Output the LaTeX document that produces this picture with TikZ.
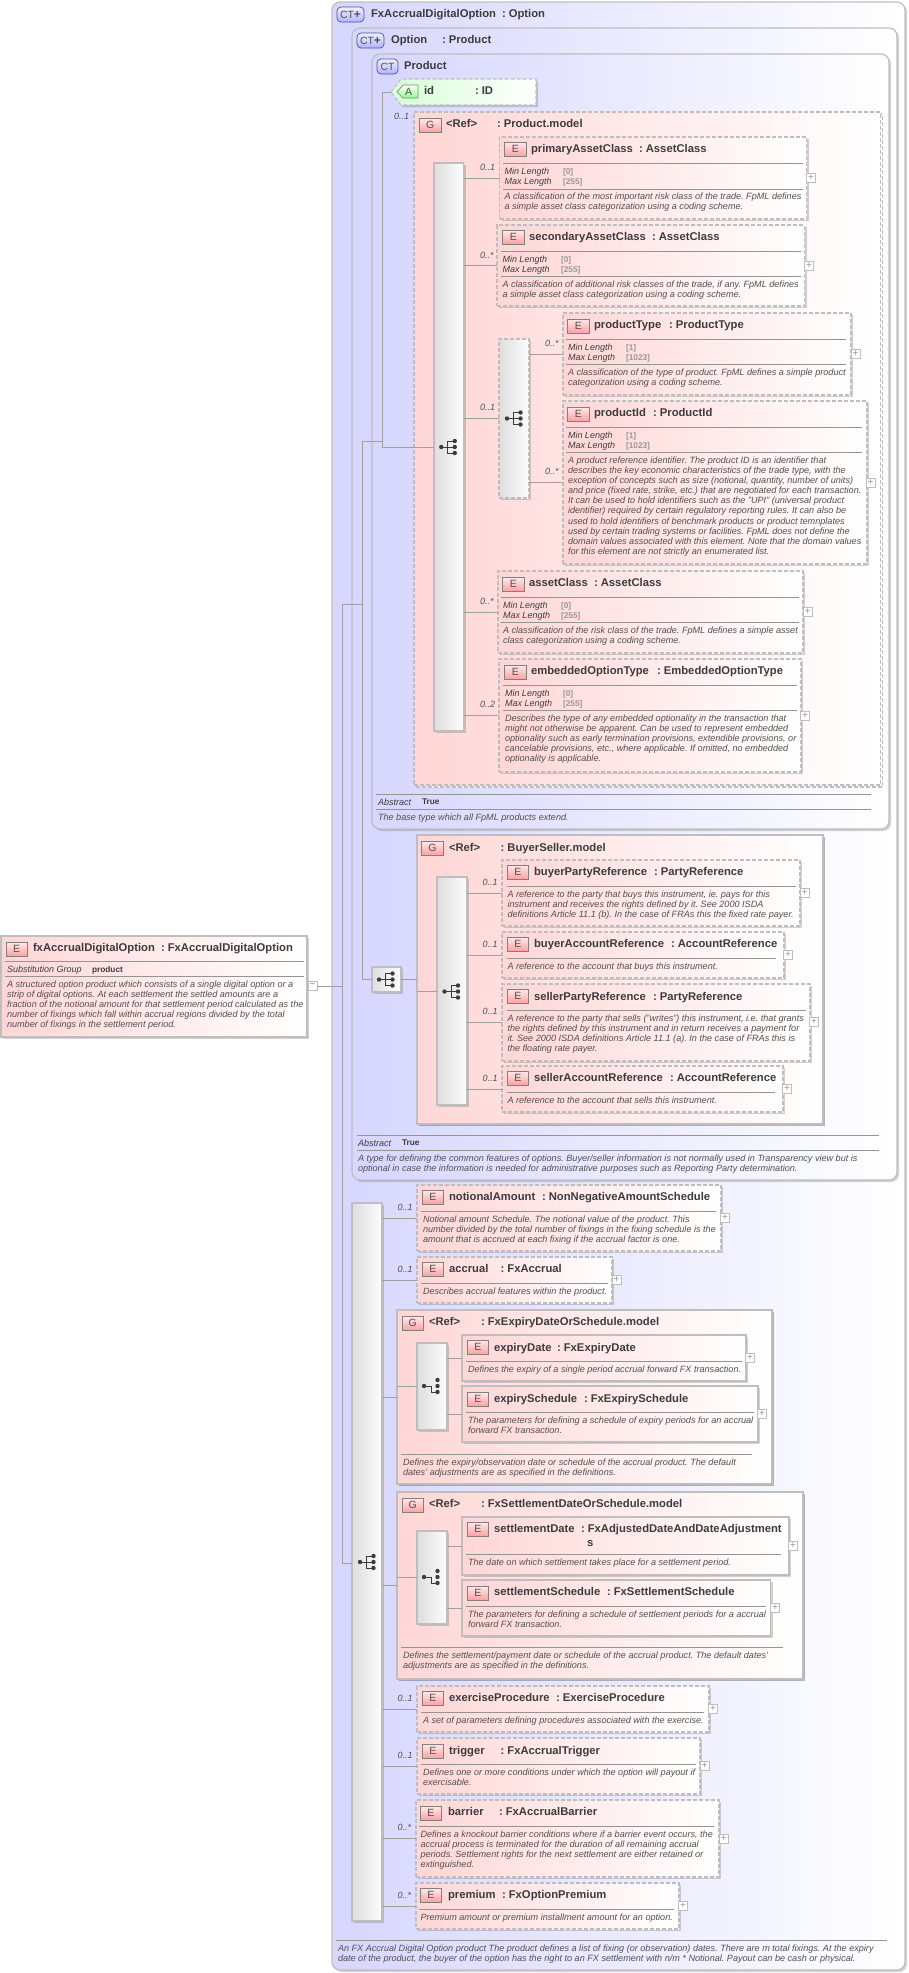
\documentclass[tikz,border=0pt]{standalone}
\usepackage{fontspec}
\setmainfont{Liberation Sans}
\usepackage{tikz}
\usetikzlibrary{shadows}
\frenchspacing
\definecolor{lavleft}{HTML}{D6D6FF}
\definecolor{pinkleft}{HTML}{FFD6D6}
\definecolor{greenleft}{HTML}{D6FFD6}
\definecolor{frame}{HTML}{BEBEBE}
\definecolor{wirecol}{HTML}{A0A0A0}
\definecolor{ink}{HTML}{3C3C3C}
\definecolor{softink}{HTML}{505050}
\definecolor{valink}{HTML}{989898}
\tikzset{
	seqicon/.pic={
		\fill[ink] (-7.5,0) circle (2.2pt);
		\fill[ink] (6,-6) circle (2.2pt);
		\fill[ink] (6,0) circle (2.2pt);
		\fill[ink] (6,6) circle (2.2pt);
		\draw[ink,line width=0.8pt] (-7.5,0) -- (6,0);
		\draw[ink,line width=0.8pt] (6,-6) -- (-1,-6) -- (-1,6) -- (6,6);
	},
	choiceicon/.pic={
		\fill[ink] (-7.5,0) circle (2.2pt);
		\fill[ink] (6,-6) circle (2.2pt);
		\fill[ink] (6,0) circle (2.2pt);
		\fill[ink] (6,6) circle (2.2pt);
		\draw[ink,line width=0.8pt] (-7.5,0) -- (0,0) -- (0,6) -- (6,6);
	}
}
\begin{document}
\begin{tikzpicture}[x=1pt,y=-1pt,inner sep=0pt,outer sep=0pt]
	\tikzstyle{softshadow}=[drop shadow={shadow xshift=2pt,shadow yshift=-2pt,opacity=0.25,fill=black!70}]
	\tikzstyle{ctbox}=[draw=frame,line width=1.2pt,rounded corners=8pt,left color=lavleft,right color=white,softshadow]
	\tikzstyle{grprepeat}=[draw=frame,dash pattern=on 4pt off 2pt,line width=1.1pt,fill=white]
	\tikzstyle{grpdashed}=[draw=frame,dash pattern=on 4pt off 2pt,line width=1.1pt,left color=pinkleft,right color=white]
	\tikzstyle{grpsolid}=[draw=frame,line width=1.2pt,left color=pinkleft,right color=white,drop shadow={shadow xshift=2pt,shadow yshift=-2pt,opacity=0.4,fill=black!70}]
	\tikzstyle{elemdashed}=[draw=frame,dash pattern=on 4pt off 2pt,line width=1.1pt,left color=pinkleft,right color=white,softshadow]
	\tikzstyle{elemsolid}=[draw=frame,line width=1.2pt,left color=pinkleft,right color=white,softshadow]
	\tikzstyle{seqbar}=[draw=frame,line width=1.1pt,left color=black!13,right color=black!1,softshadow]
	\tikzstyle{seqbardashed}=[seqbar,dash pattern=on 4pt off 2pt]
	\tikzstyle{tagbase}=[anchor=north west,draw=black!50,line width=0.7pt,text=softink,font=\fontsize{10.5}{11}\selectfont]
	\tikzstyle{tagE}=[tagbase,minimum width=21.5,minimum height=14.5,top color=pinkleft!50,bottom color=red!38]
	\tikzstyle{tagCT}=[tagbase,draw=black!45!blue!70,rounded corners=4pt,minimum height=15,top color=blue!6,bottom color=blue!30]
	\tikzstyle{plusbox}=[draw=frame,line width=0.8pt,fill=white,minimum width=9,minimum height=9,text=valink,font=\fontsize{10}{10}\selectfont]
	\tikzstyle{namelabel}=[anchor=base west,yshift=-4pt,text=ink,font=\fontsize{11.25}{12}\selectfont\bfseries]
	\tikzstyle{factlabel}=[anchor=base west,yshift=-3.2pt,text=ink,font=\fontsize{9}{10}\selectfont\itshape]
	\tikzstyle{factvalue}=[anchor=base west,yshift=-3.2pt,text=valink,font=\fontsize{8.3}{10}\selectfont\bfseries]
	\tikzstyle{boldvalue}=[factvalue,text=ink]
	\tikzstyle{cardlabel}=[factlabel,text=softink]
	\tikzstyle{desclabel}=[anchor=north west,yshift=3.4pt,align=left,text=softink,font=\fontsize{9.1}{10.15}\selectfont\itshape]
	\tikzstyle{sepline}=[draw=black!42,line width=0.8pt]
	\tikzstyle{wire}=[draw=wirecol,line width=0.8pt]

	\node[ctbox,minimum width=573,minimum height=1968](outerct) at (618.5,986) {};
	\node[tagCT,minimum width=27](outertag) at (337,7) {CT{\bfseries\fontsize{12}{12}\selectfont+}};
	\node[namelabel](outername) at (371,13) {FxAccrualDigitalOption};
	\node[namelabel](outertype) at (502,13) {: Option};

	\node[ctbox,minimum width=545,minimum height=1152](optionct) at (624.5,604) {};
	\node[tagCT,minimum width=27](optiontag) at (357,33) {CT{\bfseries\fontsize{12}{12}\selectfont+}};
	\node[namelabel](optionname) at (391,39) {Option};
	\node[namelabel](optiontype) at (442,39) {: Product};

	\node[ctbox,minimum width=517,minimum height=775](productct) at (630.5,441.5) {};
	\node[tagCT,minimum width=21](producttag) at (377,59) {CT};
	\node[namelabel](productname) at (404,65) {Product};

	\path[draw=frame,dash pattern=on 4pt off 2pt,line width=1.1pt,left color=greenleft,right color=white,softshadow] (391,92) -- (401,79) -- (536,79) -- (536,105) -- (401,105) -- cycle;
	\coordinate (idtip) at (391,92);
	\path[draw=black!50,line width=0.7pt,top color=white,bottom color=green!45] (397,92) -- (403,85) -- (418,85) -- (418,98) -- (403,98) -- cycle;
	\node[text=softink,font=\fontsize{10.5}{11}\selectfont](idtag) at (408.5,92) {A};
	\node[namelabel](idname) at (424,90) {id};
	\node[namelabel](idtype) at (475,90) {: ID};

	\node[grprepeat,minimum width=466.5,minimum height=673](modelback) at (649.25,450.5) {};
	\node[grpdashed,minimum width=466.5,minimum height=673](modelgrp) at (647.25,448.5) {};
	\node[cardlabel](modelcard) at (394,116) {0..1};
	\node[tagE](modeltag) at (419.5,118) {G};
	\node[namelabel](modelname) at (446,123) {<Ref>};
	\node[namelabel](modeltype) at (497,123) {: Product.model};
	\node[seqbar,minimum width=29.5,minimum height=568](modelseq) at (448.75,447) {};
	\pic (modelicon) at (448.75,447) {seqicon};

	\node[elemdashed,minimum width=307,minimum height=82](primary) at (653,178) {};
	\node[tagE](primarytag) at (504.5,142) {E};
	\node[namelabel](primaryname) at (531,148) {primaryAssetClass};
	\node[namelabel](primarytype) at (639,148) {: AssetClass};
	\draw[sepline] (503,163) -- (803,163);
	\node[factlabel](primarymin) at (504.5,171) {Min Length};
	\node[factvalue](primaryminv) at (563,171) {[0]};
	\node[factlabel](primarymax) at (504.5,181) {Max Length};
	\node[factvalue](primarymaxv) at (563,181) {[255]};
	\draw[sepline] (503,189) -- (803,189);
	\node[desclabel](primarydesc) at (504.5,196) {A classification of the most important risk class of the trade. FpML defines\\a simple asset class categorization using a coding scheme.};
	\node[plusbox](primaryplus) at (811,178) {+};
	\node[cardlabel](primarycard) at (480,167) {0..1};

	\node[elemdashed,minimum width=307.6,minimum height=81](secondary) at (650.8,265.5) {};
	\node[tagE](secondarytag) at (502.5,230) {E};
	\node[namelabel](secondaryname) at (529,236) {secondaryAssetClass};
	\node[namelabel](secondarytype) at (652,236) {: AssetClass};
	\draw[sepline] (501,251) -- (801,251);
	\node[factlabel](secondarymin) at (502.5,259) {Min Length};
	\node[factvalue](secondaryminv) at (561,259) {[0]};
	\node[factlabel](secondarymax) at (502.5,269) {Max Length};
	\node[factvalue](secondarymaxv) at (561,269) {[255]};
	\draw[sepline] (501,276) -- (801,276);
	\node[desclabel](secondarydesc) at (502.5,284) {A classification of additional risk classes of the trade, if any. FpML defines\\a simple asset class categorization using a coding scheme.};
	\node[plusbox](secondaryplus) at (809,266) {+};
	\node[cardlabel](secondarycard) at (480,255) {0..*};

	\node[seqbardashed,minimum width=30,minimum height=159](choicebar) at (514,418.5) {};
	\pic (choiceicon) at (514.5,418.5) {seqicon};
	\node[cardlabel](choicecard) at (480,407) {0..1};

	\node[elemdashed,minimum width=288,minimum height=82](ptype) at (707,354) {};
	\node[tagE](ptypetag) at (567.5,319) {E};
	\node[namelabel](ptypename) at (594,324) {productType};
	\node[namelabel](ptypetype) at (669,324) {: ProductType};
	\draw[sepline] (566,339) -- (846,339);
	\node[factlabel](ptypemin) at (568,347) {Min Length};
	\node[factvalue](ptypeminv) at (626,347) {[1]};
	\node[factlabel](ptypemax) at (568,357) {Max Length};
	\node[factvalue](ptypemaxv) at (626,357) {[1023]};
	\draw[sepline] (566,364) -- (846,364);
	\node[desclabel](ptypedesc) at (568,372) {A classification of the type of product. FpML defines a simple product\\categorization using a coding scheme.};
	\node[plusbox](ptypeplus) at (855.5,354) {+};
	\node[cardlabel](ptypecard) at (545,343) {0..*};

	\node[elemdashed,minimum width=304,minimum height=163](pid) at (715,482.5) {};
	\node[tagE](pidtag) at (567.5,407) {E};
	\node[namelabel](pidname) at (594,412) {productId};
	\node[namelabel](pidtype) at (653,412) {: ProductId};
	\draw[sepline] (566,427) -- (862,427);
	\node[factlabel](pidmin) at (568,435) {Min Length};
	\node[factvalue](pidminv) at (626,435) {[1]};
	\node[factlabel](pidmax) at (568,445) {Max Length};
	\node[factvalue](pidmaxv) at (626,445) {[1023]};
	\draw[sepline] (566,452) -- (862,452);
	\node[desclabel](piddesc) at (568,460) {A product reference identifier. The product ID is an identifier that\\describes the key economic characteristics of the trade type, with the\\exception of concepts such as size (notional, quantity, number of units)\\and price (fixed rate, strike, etc.) that are negotiated for each transaction.\\It can be used to hold identifiers such as the "UPI" (universal product\\identifier) required by certain regulatory reporting rules. It can also be\\used to hold identifiers of benchmark products or product temnplates\\used by certain trading systems or facilities. FpML does not define the\\domain values associated with this element. Note that the domain values\\for this element are not strictly an enumerated list.};
	\node[plusbox](pidplus) at (870.5,483) {+};
	\node[cardlabel](pidcard) at (545,471) {0..*};

	\node[elemdashed,minimum width=305,minimum height=82](asset) at (650.5,612) {};
	\node[tagE](assettag) at (502.5,577) {E};
	\node[namelabel](assetname) at (529,582) {assetClass};
	\node[namelabel](assettype) at (594,582) {: AssetClass};
	\draw[sepline] (501,597) -- (799,597);
	\node[factlabel](assetmin) at (503,605) {Min Length};
	\node[factvalue](assetminv) at (561,605) {[0]};
	\node[factlabel](assetmax) at (503,615) {Max Length};
	\node[factvalue](assetmaxv) at (561,615) {[255]};
	\draw[sepline] (501,622) -- (799,622);
	\node[desclabel](assetdesc) at (503,630) {A classification of the risk class of the trade. FpML defines a simple asset\\class categorization using a coding scheme.};
	\node[plusbox](assetplus) at (807.5,612) {+};
	\node[cardlabel](assetcard) at (480,601) {0..*};

	\node[elemdashed,minimum width=302,minimum height=113](embedded) at (650,715.5) {};
	\node[tagE](embeddedtag) at (504.5,665) {E};
	\node[namelabel](embeddedname) at (531,670) {embeddedOptionType};
	\node[namelabel](embeddedtype) at (657,670) {: EmbeddedOptionType};
	\draw[sepline] (503,685) -- (797,685);
	\node[factlabel](embeddedmin) at (505,693) {Min Length};
	\node[factvalue](embeddedminv) at (563,693) {[0]};
	\node[factlabel](embeddedmax) at (505,703) {Max Length};
	\node[factvalue](embeddedmaxv) at (563,703) {[255]};
	\draw[sepline] (503,710) -- (797,710);
	\node[desclabel](embeddeddesc) at (505,718) {Describes the type of any embedded optionality in the transaction that\\might not otherwise be apparent. Can be used to represent embedded\\optionality such as early termination provisions, extendible provisions, or\\cancelable provisions, etc., where applicable. If omitted, no embedded\\optionality is applicable.};
	\node[plusbox](embeddedplus) at (805,716) {+};
	\node[cardlabel](embeddedcard) at (480,704) {0..2};

	\draw[sepline] (376,794) -- (871,794);
	\node[factlabel](productabs) at (378,802) {Abstract};
	\node[boldvalue](productabsv) at (422,801) {True};
	\draw[sepline] (376,809) -- (871,809);
	\node[desclabel](productdesc) at (378,817) {The base type which all FpML products extend.};

	\node[seqbar,minimum width=29,minimum height=25](optseq) at (386.5,979.5) {};
	\pic (optseqicon) at (386.5,979.5) {seqicon};

	\node[grpsolid,minimum width=406,minimum height=289](buyergrp) at (620,979.5) {};
	\node[tagE](buyergrptag) at (421.6,841) {G};
	\node[namelabel](buyergrpname) at (449,847) {<Ref>};
	\node[namelabel](buyergrptype) at (500.6,847) {: BuyerSeller.model};
	\node[seqbar,minimum width=30,minimum height=228](buyerseq) at (452,991) {};
	\pic (buyericon) at (452,991.5) {seqicon};

	\node[elemdashed,minimum width=298,minimum height=66](bparty) at (651,893) {};
	\node[tagE](bpartytag) at (507,865) {E};
	\node[namelabel](bpartyname) at (534,871) {buyerPartyReference};
	\node[namelabel](bpartytype) at (654,871) {: PartyReference};
	\draw[sepline] (506.5,886) -- (796,886);
	\node[desclabel](bpartydesc) at (507.5,894) {A reference to the party that buys this instrument, ie. pays for this\\instrument and receives the rights defined by it. See 2000 ISDA\\definitions Article 11.1 (b). In the case of FRAs this the fixed rate payer.};
	\node[plusbox](bpartyplus) at (804.5,893) {+};
	\node[cardlabel](bpartycard) at (482.5,882) {0..1};

	\node[elemdashed,minimum width=282,minimum height=46](bacct) at (643,955) {};
	\node[tagE](bacctag) at (507,937) {E};
	\node[namelabel](bacctname) at (534,943) {buyerAccountReference};
	\node[namelabel](bacctype) at (671,943) {: AccountReference};
	\draw[sepline] (506.5,958) -- (776,958);
	\node[desclabel](bacctdesc) at (507.5,966) {A reference to the account that buys this instrument.};
	\node[plusbox](bacctplus) at (788,955) {+};
	\node[cardlabel](bacctcard) at (482.5,944) {0..1};

	\node[elemdashed,minimum width=308,minimum height=77](sparty) at (656,1022.5) {};
	\node[tagE](spartytag) at (507,989) {E};
	\node[namelabel](spartyname) at (534,996) {sellerPartyReference};
	\node[namelabel](spartytype) at (653,996) {: PartyReference};
	\draw[sepline] (506.5,1010) -- (806,1010);
	\node[desclabel](spartydesc) at (507.5,1018) {A reference to the party that sells ("writes") this instrument, i.e. that grants\\the rights defined by this instrument and in return receives a payment for\\it. See 2000 ISDA definitions Article 11.1 (a). In the case of FRAs this is\\the floating rate payer.};
	\node[plusbox](spartyplus) at (814,1022) {+};
	\node[cardlabel](spartycard) at (482.5,1011) {0..1};

	\node[elemdashed,minimum width=281,minimum height=46](sacct) at (642.5,1089) {};
	\node[tagE](sacctag) at (507,1071) {E};
	\node[namelabel](sacctname) at (534,1077) {sellerAccountReference};
	\node[namelabel](sacctype) at (670,1077) {: AccountReference};
	\draw[sepline] (506.5,1092) -- (775,1092);
	\node[desclabel](sacctdesc) at (507.5,1100) {A reference to the account that sells this instrument.};
	\node[plusbox](sacctplus) at (787,1089) {+};
	\node[cardlabel](sacctcard) at (482.5,1078) {0..1};

	\draw[sepline] (357,1135) -- (879,1135);
	\node[factlabel](optionabs) at (358,1143) {Abstract};
	\node[boldvalue](optionabsv) at (402,1142) {True};
	\draw[sepline] (357,1150) -- (879,1150);
	\node[desclabel](optiondesc) at (358,1158) {A type for defining the common features of options. Buyer/seller information is not normally used in Transparency view but is\\optional in case the information is needed for administrative purposes such as Reporting Party determination.};

	\node[seqbar,minimum width=30,minimum height=718](mainseq) at (367,1562) {};
	\pic (mainicon) at (367.5,1562) {seqicon};

	\node[elemdashed,minimum width=304,minimum height=66](notional) at (569,1218) {};
	\node[tagE](notionaltag) at (422,1190) {E};
	\node[namelabel](notionalname) at (449,1196) {notionalAmount};
	\node[namelabel](notionaltype) at (542,1196) {: NonNegativeAmountSchedule};
	\draw[sepline] (421,1211) -- (716,1211);
	\node[desclabel](notionaldesc) at (423,1219) {Notional amount Schedule. The notional value of the product. This\\number divided by the total number of fixings in the fixing schedule is the\\amount that is accrued at each fixing if the accrual factor is one.};
	\node[plusbox](notionalplus) at (725,1218) {+};
	\node[cardlabel](notionalcard) at (397.6,1207) {0..1};

	\node[elemdashed,minimum width=195,minimum height=46](accrual) at (514.5,1280) {};
	\node[tagE](accrualtag) at (422,1262) {E};
	\node[namelabel](accrualname) at (449,1268) {accrual};
	\node[namelabel](accrualtype) at (500.6,1268) {: FxAccrual};
	\draw[sepline] (421,1283) -- (608,1283);
	\node[desclabel](accrualdesc) at (423,1291) {Describes accrual features within the product.};
	\node[plusbox](accrualplus) at (616.5,1280) {+};
	\node[cardlabel](accrualcard) at (397.6,1269) {0..1};

	\node[grpsolid,minimum width=375,minimum height=174](expirygrp) at (584.5,1397) {};
	\node[tagE](expirygrptag) at (402,1316) {G};
	\node[namelabel](expirygrpname) at (429,1321) {<Ref>};
	\node[namelabel](expirygrptype) at (481,1321) {: FxExpiryDateOrSchedule.model};
	\node[seqbar,minimum width=30,minimum height=87](expiryseq) at (432,1386.5) {};
	\pic (expiryicon) at (431.5,1386) {choiceicon};

	\node[elemsolid,minimum width=284,minimum height=46](edate) at (604,1358) {};
	\node[tagE](edatetag) at (467,1340) {E};
	\node[namelabel](edatename) at (494,1347) {expiryDate};
	\node[namelabel](edatetype) at (557,1347) {: FxExpiryDate};
	\draw[sepline] (466,1361) -- (742,1361);
	\node[desclabel](edatedesc) at (468,1369) {Defines the expiry of a single period accrual forward FX transaction.};
	\node[plusbox](edateplus) at (750,1358) {+};

	\node[elemsolid,minimum width=296,minimum height=56](esched) at (610,1414) {};
	\node[tagE](eschedtag) at (467,1392) {E};
	\node[namelabel](eschedname) at (494,1398) {expirySchedule};
	\node[namelabel](eschedtype) at (584,1398) {: FxExpirySchedule};
	\draw[sepline] (466,1412) -- (753.5,1412);
	\node[desclabel](escheddesc) at (468,1420) {The parameters for defining a schedule of expiry periods for an accrual\\forward FX transaction.};
	\node[plusbox](eschedplus) at (762,1414) {+};

	\draw[sepline] (401,1454) -- (752,1454);
	\node[desclabel](expirydesc) at (403,1462) {Defines the expiry/observation date or schedule of the accrual product. The default\\dates' adjustments are as specified in the definitions.};

	\node[grpsolid,minimum width=406,minimum height=187](settlegrp) at (600,1585.5) {};
	\node[tagE](settlegrptag) at (402,1498) {G};
	\node[namelabel](settlegrpname) at (429,1503) {<Ref>};
	\node[namelabel](settlegrptype) at (481,1503) {: FxSettlementDateOrSchedule.model};
	\node[seqbar,minimum width=30,minimum height=93](settleseq) at (432,1577.5) {};
	\pic (settleicon) at (431.5,1577) {choiceicon};

	\node[elemsolid,minimum width=327,minimum height=58](sdate) at (625.5,1546) {};
	\node[tagE](sdatetag) at (467,1522) {E};
	\node[namelabel](sdatename) at (494,1528) {settlementDate};
	\node[namelabel](sdatetype) at (581,1528) {: FxAdjustedDateAndDateAdjustment};
	\node[namelabel](sdatetail) at (587,1542) {s};
	\draw[sepline] (466,1554) -- (781,1554);
	\node[desclabel](sdatedesc) at (468,1562) {The date on which settlement takes place for a settlement period.};
	\node[plusbox](sdateplus) at (793,1546) {+};

	\node[elemsolid,minimum width=308.5,minimum height=56](ssched) at (616.25,1608) {};
	\node[tagE](sschedtag) at (467,1586) {E};
	\node[namelabel](sschedname) at (494,1591) {settlementSchedule};
	\node[namelabel](sschedtype) at (607,1591) {: FxSettlementSchedule};
	\draw[sepline] (466,1606) -- (766,1606);
	\node[desclabel](sscheddesc) at (468,1614) {The parameters for defining a schedule of settlement periods for a accrual\\forward FX transaction.};
	\node[plusbox](sschedplus) at (775,1608) {+};

	\draw[sepline] (401,1647) -- (783,1647);
	\node[desclabel](settledesc) at (403,1655) {Defines the settlement/payment date or schedule of the accrual product. The default dates'\\adjustments are as specified in the definitions.};

	\node[elemdashed,minimum width=292,minimum height=46](exercise) at (563,1709) {};
	\node[tagE](exercisetag) at (422,1691) {E};
	\node[namelabel](exercisename) at (449,1697) {exerciseProcedure};
	\node[namelabel](exercisetype) at (556,1697) {: ExerciseProcedure};
	\draw[sepline] (421,1712) -- (704,1712);
	\node[desclabel](exercisedesc) at (423,1720) {A set of parameters defining procedures associated with the exercise.};
	\node[plusbox](exerciseplus) at (713,1709) {+};
	\node[cardlabel](exercisecard) at (397.6,1698) {0..1};

	\node[elemdashed,minimum width=283,minimum height=56](trigger) at (558.5,1766) {};
	\node[tagE](triggertag) at (422,1744) {E};
	\node[namelabel](triggername) at (449,1750) {trigger};
	\node[namelabel](triggertype) at (500.6,1750) {: FxAccrualTrigger};
	\draw[sepline] (421,1764) -- (695.6,1764);
	\node[desclabel](triggerdesc) at (423,1772) {Defines one or more conditions under which the option will payout if\\exercisable.};
	\node[plusbox](triggerplus) at (704.5,1766) {+};
	\node[cardlabel](triggercard) at (397.6,1755) {0..1};

	\node[elemdashed,minimum width=303,minimum height=77](barrier) at (567.5,1838.5) {};
	\node[tagE](barriertag) at (420,1806) {E};
	\node[namelabel](barriername) at (448,1811) {barrier};
	\node[namelabel](barriertype) at (499,1811) {: FxAccrualBarrier};
	\draw[sepline] (419,1826) -- (714,1826);
	\node[desclabel](barrierdesc) at (420.5,1834) {Defines a knockout barrier conditions where if a barrier event occurs, the\\accrual process is terminated for the duration of all remaining accrual\\periods. Settlement rights for the next settlement are either retained or\\extinguished.};
	\node[plusbox](barrierplus) at (723.5,1839) {+};
	\node[cardlabel](barriercard) at (397.6,1827) {0..*};

	\node[elemdashed,minimum width=263,minimum height=46](premium) at (547.5,1906) {};
	\node[tagE](premiumtag) at (420,1888) {E};
	\node[namelabel](premiumname) at (448,1894) {premium};
	\node[namelabel](premiumtype) at (502,1894) {: FxOptionPremium};
	\draw[sepline] (419,1909) -- (674,1909);
	\node[desclabel](premiumdesc) at (420.5,1917) {Premium amount or premium installment amount for an option.};
	\node[plusbox](premiumplus) at (683,1906) {+};
	\node[cardlabel](premiumcard) at (397.6,1895) {0..*};

	\draw[sepline] (336,1940) -- (886.5,1940);
	\node[desclabel](outerdesc) at (338,1948) {An FX Accrual Digital Option product The product defines a list of fixing (or observation) dates. There are m total fixings. At the expiry\\date of the product, the buyer of the option has the right to an FX settlement with n/m * Notional. Payout can be cash or physical.};

	\node[elemsolid,minimum width=306,minimum height=101](fxroot) at (154,986.5) {};
	\node[tagE](fxroottag) at (6,942) {E};
	\node[namelabel](fxrootname) at (33,947) {fxAccrualDigitalOption};
	\node[namelabel](fxroottype) at (161,947) {: FxAccrualDigitalOption};
	\draw[sepline] (5,961) -- (304,961);
	\node[factlabel](fxrootsub) at (7,969) {Substitution Group};
	\node[boldvalue](fxrootsubv) at (92,969) {product};
	\draw[sepline] (5,976) -- (304,976);
	\node[desclabel](fxrootdesc) at (7,984) {A structured option product which consists of a single digital option or a\\strip of digital options. At each settlement the settled amounts are a\\fraction of the notional amount for that settlement period calculated as the\\number of fixings which fall within accrual regions divided by the total\\number of fixings in the settlement period.};
	\node[plusbox](fxrootminus) at (312.5,986) {−};

	\coordinate (trunk) at (342,986);
	\coordinate (trunktop) at (342,604);
	\coordinate (trunkend) at (342,1563);
	\coordinate (mid) at (362,604);
	\coordinate (midtop) at (362,441);
	\coordinate (midend) at (362,979.5);
	\coordinate (inner) at (382,447);
	\coordinate (innerjoin) at (382,441);
	\coordinate (innertop) at (382,92);
	\draw[wire] (fxrootminus) to (trunk);
	\draw[wire] (trunktop) to (trunkend);
	\draw[wire] (trunktop) to (mid);
	\draw[wire] (trunkend) to (mainseq.west |- trunkend);
	\draw[wire] (midtop) to (midend);
	\draw[wire] (midtop) to (innerjoin);
	\draw[wire] (midend) to (optseq.west);
	\draw[wire] (innertop) to (inner);
	\draw[wire] (innertop) to (idtip);
	\draw[wire] (inner) to (modelseq.west |- inner);
	\draw[wire] (optseq.east) to (buyergrp.west);
	\draw[wire] (buyergrp.west |- buyerseq.west) to (buyerseq.west);
	\draw[wire] (modelseq.east |- primary.west) to (primary.west);
	\draw[wire] (modelseq.east |- secondary.west) to (secondary.west);
	\draw[wire] (modelseq.east |- choicebar.west) to (choicebar.west);
	\draw[wire] (modelseq.east |- asset.west) to (asset.west);
	\draw[wire] (modelseq.east |- embedded.west) to (embedded.west);
	\draw[wire] (choicebar.east |- ptype.west) to (ptype.west);
	\draw[wire] (choicebar.east |- pid.west) to (pid.west);
	\draw[wire] (buyerseq.east |- bparty.west) to (bparty.west);
	\draw[wire] (buyerseq.east |- bacct.west) to (bacct.west);
	\draw[wire] (buyerseq.east |- sparty.west) to (sparty.west);
	\draw[wire] (buyerseq.east |- sacct.west) to (sacct.west);
	\draw[wire] (mainseq.east |- notional.west) to (notional.west);
	\draw[wire] (mainseq.east |- accrual.west) to (accrual.west);
	\draw[wire] (mainseq.east |- expirygrp.west) to (expirygrp.west);
	\draw[wire] (mainseq.east |- settlegrp.west) to (settlegrp.west);
	\draw[wire] (mainseq.east |- exercise.west) to (exercise.west);
	\draw[wire] (mainseq.east |- trigger.west) to (trigger.west);
	\draw[wire] (mainseq.east |- barrier.west) to (barrier.west);
	\draw[wire] (mainseq.east |- premium.west) to (premium.west);
	\draw[wire] (expirygrp.west |- expiryseq.west) to (expiryseq.west);
	\draw[wire] (expiryseq.east |- edate.west) to (edate.west);
	\draw[wire] (expiryseq.east |- esched.west) to (esched.west);
	\draw[wire] (settlegrp.west |- settleseq.west) to (settleseq.west);
	\draw[wire] (settleseq.east |- sdate.west) to (sdate.west);
	\draw[wire] (settleseq.east |- ssched.west) to (ssched.west);
	\useasboundingbox (0,0) rectangle (909,1973);
\end{tikzpicture}
\end{document}
